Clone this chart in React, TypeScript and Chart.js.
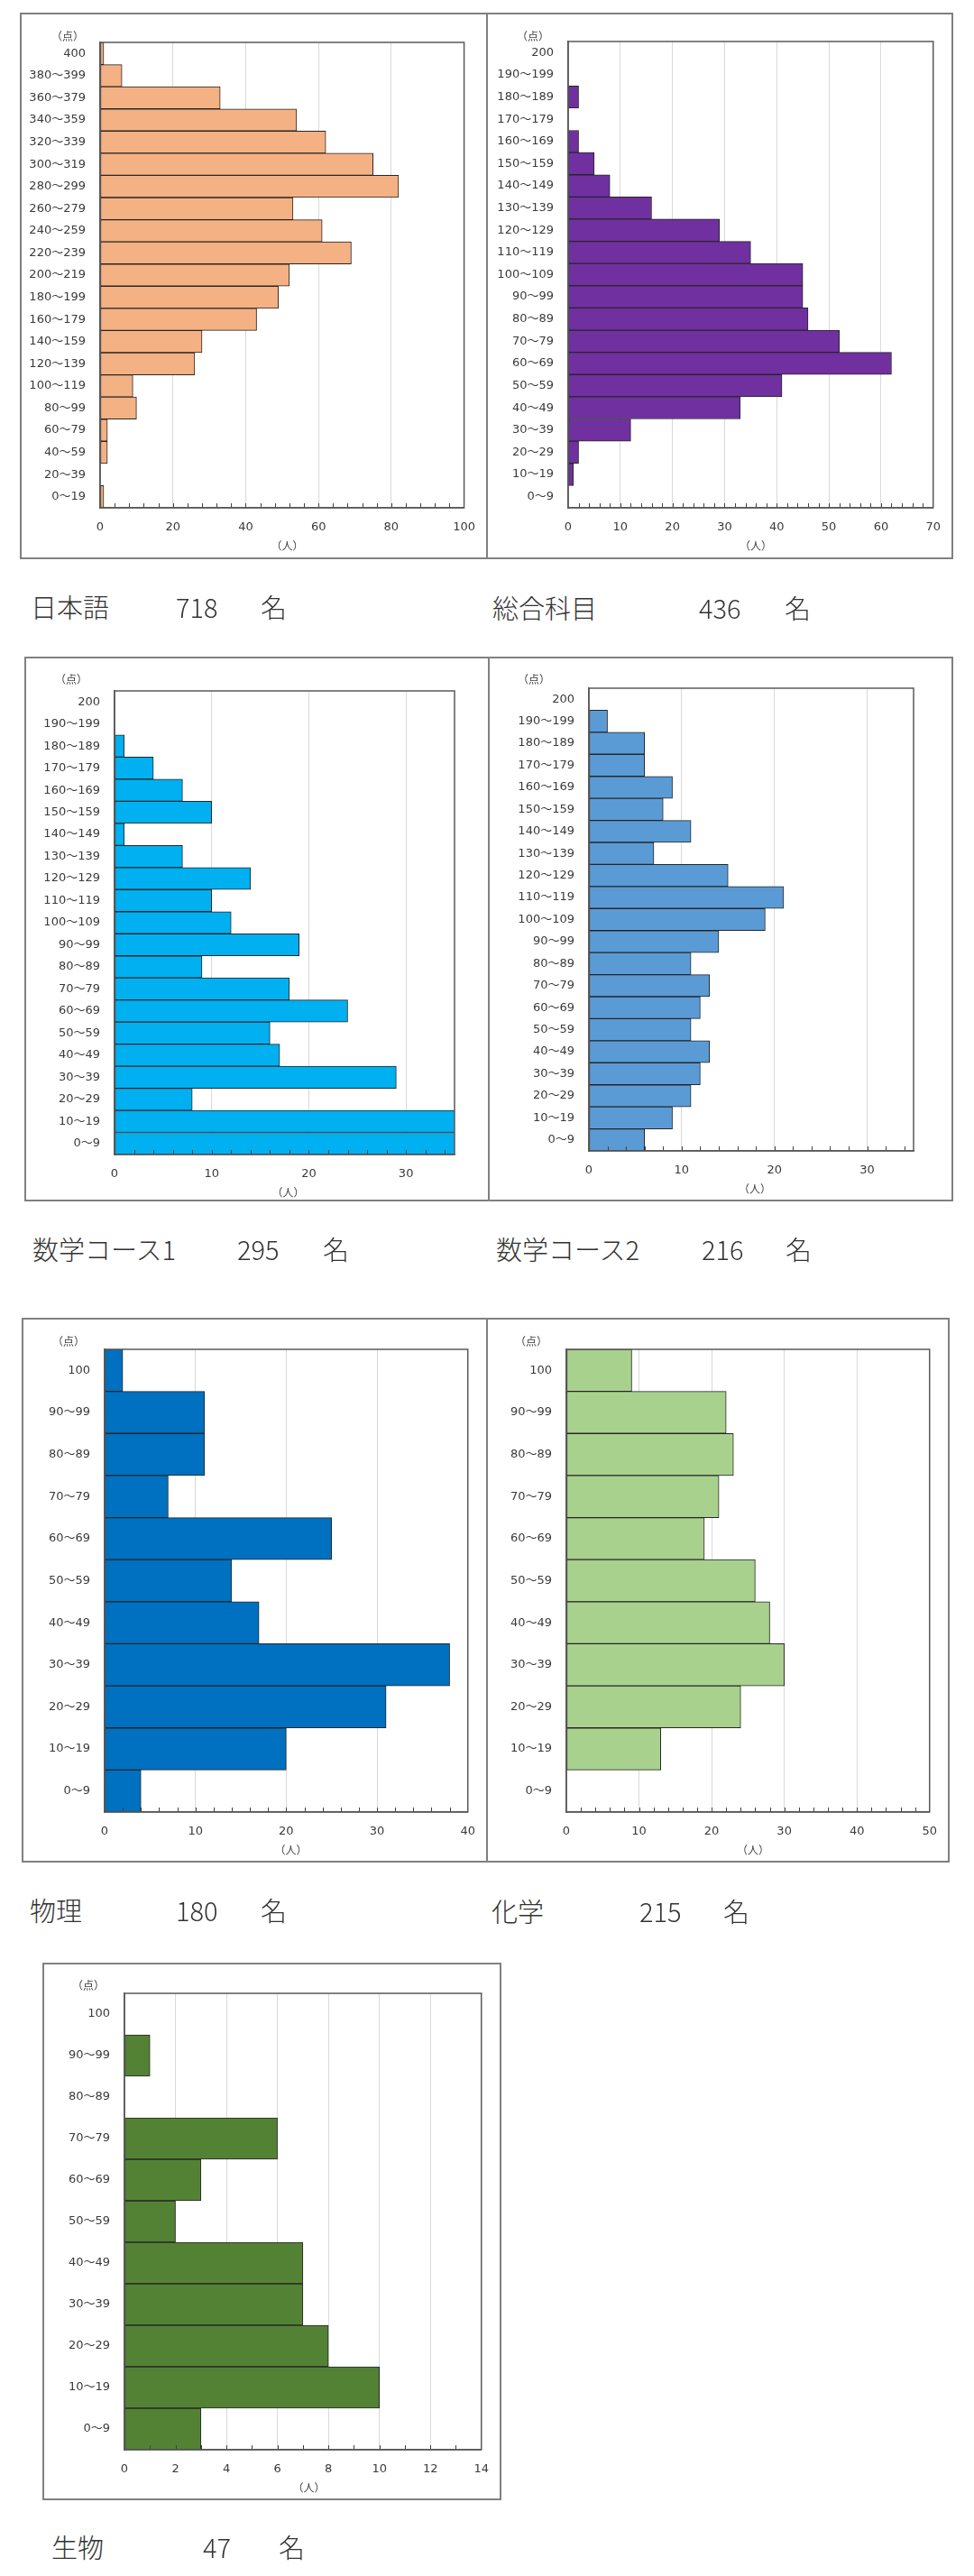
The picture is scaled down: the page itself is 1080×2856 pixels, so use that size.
import React, { useEffect, useRef } from 'react';
import { Chart, registerables } from 'chart.js';

Chart.register(...registerables);

// ---------- data ----------
const labels400 = ['400', '380～399', '360～379', '340～359', '320～339', '300～319', '280～299', '260～279', '240～259', '220～239', '200～219', '180～199', '160～179', '140～159', '120～139', '100～119', '80～99', '60～79', '40～59', '20～39', '0～19'];
const labels200 = ['200', '190～199', '180～189', '170～179', '160～169', '150～159', '140～149', '130～139', '120～129', '110～119', '100～109', '90～99', '80～89', '70～79', '60～69', '50～59', '40～49', '30～39', '20～29', '10～19', '0～9'];
const labels100 = ['100', '90～99', '80～89', '70～79', '60～69', '50～59', '40～49', '30～39', '20～29', '10～19', '0～9'];

const japaneseCounts = [1, 6, 33, 54, 62, 75, 82, 53, 61, 69, 52, 49, 43, 28, 26, 9, 10, 2, 2, 0, 1];
const generalCounts = [0, 0, 2, 0, 2, 5, 8, 16, 29, 35, 45, 45, 46, 52, 62, 41, 33, 12, 2, 1, 0];
const math1Counts = [0, 0, 1, 4, 7, 10, 1, 7, 14, 10, 12, 19, 9, 18, 24, 16, 17, 29, 8, 44, 45];
const math2Counts = [0, 2, 6, 6, 9, 8, 11, 7, 15, 21, 19, 14, 11, 13, 12, 11, 13, 12, 11, 9, 6];
const physicsCounts = [2, 11, 11, 7, 25, 14, 17, 38, 31, 20, 4];
const chemistryCounts = [9, 22, 23, 21, 19, 26, 28, 30, 24, 13, 0];
const biologyCounts = [0, 1, 0, 6, 3, 2, 7, 7, 8, 10, 3];

const subjectNames = ['日本語', '総合科目', '数学コース1', '数学コース2', '物理', '化学', '生物'];
const subjectTotals = ['718', '436', '295', '216', '180', '215', '47'];
const axisMax = [100, 70, 35, 35, 40, 50, 14];
const axisStep = [20, 10, 10, 10, 10, 10, 2];
const minorStep = [4, 2, 2, 2, 2, 2, 1];

// ---------- styles / layout ----------
const colors = ['#F4B183', '#7030A0', '#00B0F0', '#5B9BD5', '#0070C0', '#A9D18E', '#548235'];
const TICK_FONT = "'DejaVu Sans', 'Noto Sans CJK JP', sans-serif";
const CJK_FONT = "'Noto Sans CJK JP', 'Noto Sans', sans-serif";

type Layout = {
  box: [number, number, number, number];
  plot: [number, number, number, number];
  ten: [number, number];
  capY: number;
  capX: [number, number, number];
};

const layouts: Layout[] = [
  { box: [22, 14, 541, 620], plot: [111, 47, 518, 563], ten: [75, 40], capY: 672, capX: [34, 195, 289] },
  { box: [539, 14, 1057, 620], plot: [630, 46, 1038, 563], ten: [591, 40], capY: 673, capX: [546, 775, 870] },
  { box: [27, 728, 543, 1332], plot: [127, 766, 504, 1280], ten: [79, 753], capY: 1384, capX: [36, 263, 358] },
  { box: [541, 728, 1057, 1332], plot: [653, 763, 1013, 1276], ten: [592, 753], capY: 1384, capX: [550, 778, 871] },
  { box: [24, 1461, 541, 2065], plot: [116, 1496, 521, 2009], ten: [76, 1487], capY: 2117, capX: [33, 195, 289] },
  { box: [539, 1461, 1053, 2065], plot: [628, 1496, 1034, 2009], ten: [589, 1487], capY: 2118, capX: [545, 709, 802] },
  { box: [47, 2176, 556, 2772], plot: [138, 2210, 539, 2716], ten: [98, 2201], capY: 2823, capX: [57, 225, 309] },
];

const panelLabels = [labels400, labels200, labels200, labels200, labels100, labels100, labels100];
const panelCounts = [japaneseCounts, generalCounts, math1Counts, math2Counts, physicsCounts, chemistryCounts, biologyCounts];

const frameMinorPlugin = {
  id: 'frameMinor',
  afterDatasetsDraw(chart: any, _args: any, opts: any) {
    const { ctx, chartArea: a } = chart;
    const x = chart.scales.x;
    ctx.save();
    ctx.strokeStyle = '#404040';
    ctx.lineWidth = 1;
    const step = opts.minorStep || 1;
    const n = Math.round(x.max / step);
    for (let i = 1; i < n; i++) {
      const px = Math.round(x.getPixelForValue(i * step)) + 0.5;
      ctx.beginPath();
      ctx.moveTo(px, a.bottom);
      ctx.lineTo(px, a.bottom - 5);
      ctx.stroke();
    }
    ctx.strokeStyle = '#595959';
    ctx.lineWidth = 1.5;
    ctx.strokeRect(a.left, a.top, a.right - a.left, a.bottom - a.top);
    ctx.restore();
  },
};

function Panel({ idx }: { idx: number }) {
  const ref = useRef<HTMLCanvasElement>(null);
  const L = layouts[idx];
  const [bl, bt, br, bb] = L.box;
  const [pl, pt, pr, pb] = L.plot;
  const W = br - bl;
  const H = bb - bt;
  const inset = { l: pl - bl, t: pt - bt, r: br - pr, b: bb - pb };

  useEffect(() => {
    if (!ref.current) return;
    const chart = new Chart(ref.current, {
      type: 'bar',
      data: {
        labels: panelLabels[idx],
        datasets: [
          {
            data: panelCounts[idx],
            backgroundColor: colors[idx],
            borderColor: '#262626',
            borderWidth: 1,
            borderSkipped: false,
            categoryPercentage: 1,
            barPercentage: 1,
            clip: 0,
          } as any,
        ],
      },
      options: {
        indexAxis: 'y',
        animation: false,
        responsive: false,
        maintainAspectRatio: false,
        layout: { padding: { top: inset.t, right: inset.r, left: 0, bottom: 0 } },
        plugins: {
          legend: { display: false },
          tooltip: { enabled: false },
          frameMinor: { minorStep: minorStep[idx] },
        } as any,
        scales: {
          x: {
            type: 'linear',
            position: 'bottom',
            min: 0,
            max: axisMax[idx],
            ticks: {
              stepSize: axisStep[idx],
              includeBounds: false,
              font: { family: TICK_FONT, size: 13 },
              color: '#3a3a3a',
              padding: 14,
              maxRotation: 0,
            },
            grid: { color: '#d9d9d9', lineWidth: 1, drawTicks: false },
            border: { display: true, color: '#595959', width: 1.5 },
            afterFit: (s: any) => {
              s.height = inset.b;
            },
          } as any,
          y: {
            type: 'category',
            ticks: {
              font: { family: TICK_FONT, size: 13 },
              color: '#3a3a3a',
              padding: 16,
              autoSkip: false,
            },
            grid: { display: false, drawTicks: false },
            border: { display: true, color: '#595959', width: 1.5 },
            afterFit: (s: any) => {
              s.width = inset.l;
            },
          } as any,
        },
      },
      plugins: [frameMinorPlugin],
    });
    return () => chart.destroy();
  }, [idx]);

  const capStyle: React.CSSProperties = {
    position: 'absolute',
    top: L.capY - 15,
    fontFamily: CJK_FONT,
    fontSize: 29,
    fontWeight: 300,
    lineHeight: '30px',
    color: '#333333',
    whiteSpace: 'nowrap',
  };

  const unitStyle: React.CSSProperties = {
    position: 'absolute',
    width: 44,
    textAlign: 'center',
    fontFamily: CJK_FONT,
    fontSize: 12,
    lineHeight: '14px',
    color: '#404040',
  };

  return (
    <>
      <div
        style={{
          position: 'absolute',
          left: bl,
          top: bt,
          width: W,
          height: H,
          border: '2px solid #808080',
          boxSizing: 'border-box',
        }}
      />
      <canvas
        ref={ref}
        width={W}
        height={H}
        style={{ position: 'absolute', left: bl, top: bt, width: W, height: H }}
      />
      <div style={{ ...unitStyle, left: L.ten[0] - 22, top: L.ten[1] - 7 }}>（点）</div>
      <div style={{ ...unitStyle, left: (pl + pr) / 2 + 4 - 22, top: pb + 42 - 7 }}>（人）</div>
      <div style={{ ...capStyle, left: L.capX[0] }}>{subjectNames[idx]}</div>
      <div style={{ ...capStyle, left: L.capX[1] }}>{subjectTotals[idx]}</div>
      <div style={{ ...capStyle, left: L.capX[2] }}>名</div>
    </>
  );
}

export default function App() {
  return (
    <div
      style={{
        position: 'absolute',
        left: 0,
        top: 0,
        width: 1080,
        height: 2856,
        background: '#ffffff',
        overflow: 'hidden',
      }}
    >
      {layouts.map((_, i) => (
        <Panel key={i} idx={i} />
      ))}
    </div>
  );
}
